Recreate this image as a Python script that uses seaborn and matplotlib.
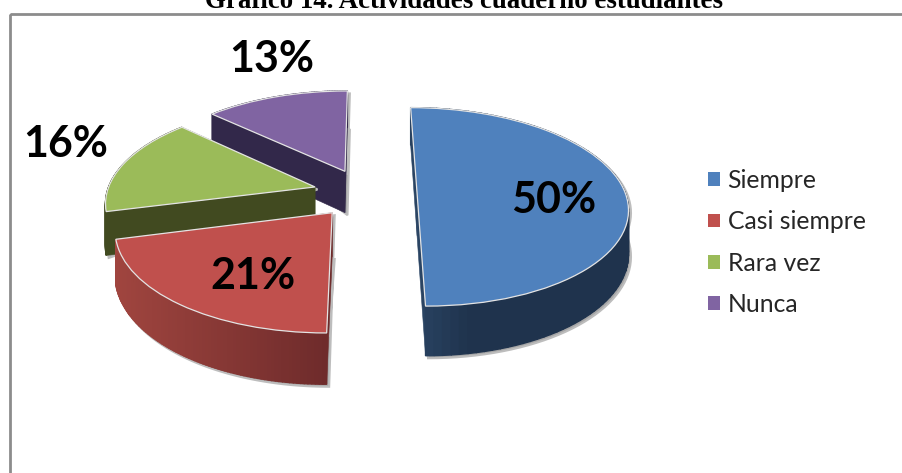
import numpy as np
import matplotlib
matplotlib.use("Agg")
import matplotlib.pyplot as plt
from matplotlib.colors import to_rgb
from matplotlib.patches import Rectangle
from matplotlib.transforms import Transform
import seaborn as sns

categories = ["Siempre", "Casi siempre", "Rara vez", "Nunca"]
percent = [50, 21, 16, 13]
percent_labels = ["50%", "21%", "16%", "13%"]
top_colors = ["#4F81BD", "#C0504D", "#9BBB59", "#8064A2"]
wall_start = ["#2A4463", "#6E2B2B", "#414A20", "#32284A"]
wall_end = ["#1F334D", "#A0453F", "#414A20", "#32284A"]
explode = [0.25, 0.25, 0.25, 0.25]

sns.set_theme(style="white")
plt.rcParams["font.family"] = ["Lato", "DejaVu Sans"]

# perspectiva: punto de fuga arriba, como el grafico 3D de Excel
VX, VY = 365.0, -501.0
A, B, G = 0.001441, 0.000202, 0.300
WALL = 0.0615


def depth(y):
    return 1.0 / (A + B * y)


def project(x, y, drop=0.0):
    d = depth(y)
    return VX + G * x * d, VY + d + drop * WALL * d


class Tilt(Transform):
    input_dims = 2
    output_dims = 2

    def transform_non_affine(self, values):
        sx, sy = project(values[:, 0], values[:, 1])
        return np.column_stack([sx, sy])


def arc_points(w, t1, t2, n):
    ang = np.radians(np.linspace(t1, t2, n))
    return w.center[0] + w.r * np.cos(ang), w.center[1] + w.r * np.sin(ang)


def draw_slice(ax, w, i, z):
    c0, c1 = wall_start[i], wall_end[i]
    cx, cy = w.center
    # sombra gris bajo las paredes
    xs, ys = arc_points(w, w.theta1, w.theta2, 80)
    xs = np.r_[cx, xs]
    ys = np.r_[cy, ys]
    px, py = project(xs, ys, 1.0)
    px2, py2 = project(xs, ys)
    ax.fill(np.r_[px, px2] + 2.5, np.r_[py, py2] + 2.5, color="#A6A6A6", lw=1.5,
            ec="#BDBDBD", zorder=z)

    # paredes rectas
    for t in (w.theta1, w.theta2):
        ex, ey = arc_points(w, t, t, 1)
        qx = np.array([cx, ex[0]])
        qy = np.array([cy, ey[0]])
        tx, ty = project(qx, qy)
        bx, by = project(qx, qy, 1.0)
        ax.fill(np.r_[tx, bx[::-1]], np.r_[ty, by[::-1]], color=c0, lw=0.4, zorder=z + 0.1)

    # pared exterior con degradado
    xs, ys = arc_points(w, w.theta1, w.theta2, 90)
    tx, ty = project(xs, ys)
    bx, by = project(xs, ys, 1.0)
    rgb0, rgb1 = np.array(to_rgb(c0)), np.array(to_rgb(c1))
    span = tx.max() - tx.min()
    for k in range(len(xs) - 1):
        f = np.clip((tx[k] - tx.min()) / span, 0, 1)
        if i == 1:
            f = 1 - f
        if i == 0:
            f = np.clip((tx[k] - tx.min()) / (0.25 * span), 0, 1)
        col = rgb0 + (rgb1 - rgb0) * f
        ax.fill([tx[k], tx[k + 1], bx[k + 1], bx[k]], [ty[k], ty[k + 1], by[k + 1], by[k]],
                color=col, lw=1.0, zorder=z + 0.2)


fig = plt.figure(figsize=(9.02, 4.73), dpi=100, facecolor="white")
ax = fig.add_axes([0, 0, 1, 1])

wedges, _ = ax.pie(percent, explode=explode, colors=top_colors, startangle=90,
                   counterclock=False, radius=1.0)
ax.set_aspect("auto")
ax.set_xlim(0, 902)
ax.set_ylim(473, 0)
ax.axis("off")

tilt = Tilt() + ax.transData
# de atras hacia adelante
for i in [3, 2, 1, 0]:
    z = 10 + (3 - i)
    draw_slice(ax, wedges[i], i, z)
    wedges[i].set_transform(tilt)
    wedges[i].set(zorder=z + 0.5, edgecolor="#E4E4E4", linewidth=0.9)

label_pos = [(554, 200), (253, 276), (66, 144), (272, 59)]
for txt, (lx, ly) in zip(percent_labels, label_pos):
    ax.text(lx, ly, txt, fontsize=31, fontweight="bold", color="black",
            ha="center", va="center", zorder=30)

# el marco sigue mas alla del borde derecho e inferior
ax.add_patch(Rectangle((9.5, 14), 960, 520, fill=False, ec="#8C8C8C", lw=2.0, zorder=1))
ax.text(464, 8.5, "Gráfico 14. Actividades cuaderno estudiantes", family="Liberation Serif",
        fontweight="bold", fontsize=19.4, color="black", ha="center", va="baseline", zorder=30)

leg = ax.legend(wedges, categories, loc="upper left", bbox_to_anchor=(708 / 902, 1 - 169 / 473),
                frameon=False, fontsize=17.8, handlelength=0.49, handleheight=0.49,
                handletextpad=0.3, labelspacing=0.74, borderpad=0, borderaxespad=0)
for h in leg.get_patches():
    h.set_edgecolor("none")
leg.set_zorder(30)

fig.savefig("out.png", dpi=100, facecolor="white")
